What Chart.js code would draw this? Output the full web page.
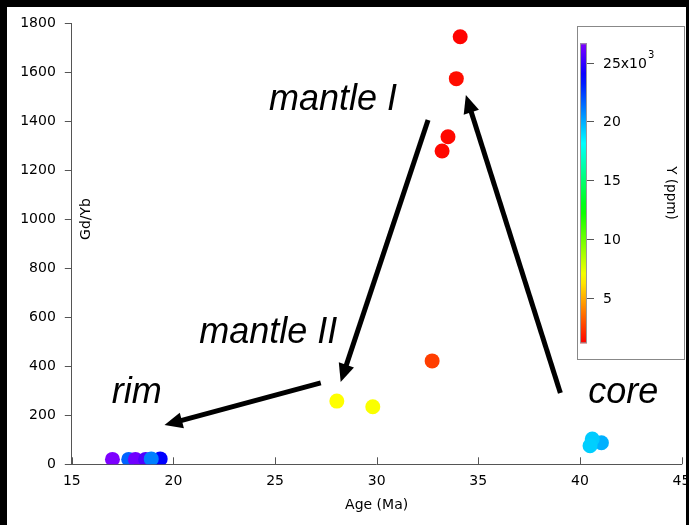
<!DOCTYPE html>
<html>
<head>
<meta charset="utf-8">
<script src="https://cdn.jsdelivr.net/npm/chart.js@4/dist/chart.umd.min.js"></script>
<style>
  html, body { margin: 0; padding: 0; background: #000; }
  canvas { display: block; }
</style>
</head>
<body>
<canvas id="chart" width="689" height="525"></canvas>
<script>
// Spot analyses: age (Ma), Gd/Yb ratio and Y content (x10^3 ppm)
const ages = [17.0, 17.8, 18.13, 18.63, 19.35, 18.91, 28.04, 29.81, 32.73, 33.22, 33.51, 33.92, 34.11, 41.06, 40.61, 40.5];
const gdyb = [20, 20, 20, 20, 22, 22, 258, 235, 422, 1279, 1337, 1574, 1745, 88, 103, 76];
const yppm = [26.6, 21.6, 26.3, 25.6, 23.8, 21.0, 6.8, 6.9, 2.5, 1.3, 1.3, 1.4, 1.2, 19.9, 19.3, 19.2];

// Axis ticks
const xTicks = [15, 20, 25, 30, 35, 40, 45];
const yTicks = [0, 200, 400, 600, 800, 1000, 1200, 1400, 1600, 1800];

// Colour scale (Y, x10^3 ppm)
const cbRange = [1.12, 26.65];
const cbTicks = [5, 10, 15, 20, 25];
const cbLabels = ['5', '10', '15', '20', '25x10'];

// Trend arrows (data coordinates: start -> tip)
const arrowStart = [[32.53, 1405], [39.04, 291], [27.25, 332]];
const arrowTip   = [[28.23, 336], [34.39, 1507], [19.56, 160]];

// Stage labels (left end of baseline, data coordinates)
const stageNames = ['mantle I', 'mantle II', 'rim', 'core'];
const stageX = [24.70, 21.27, 16.97, 40.41];
const stageY = [1446, 495, 250, 250];

function rainbow(v) {
  const t = Math.min(1, Math.max(0, (v - cbRange[0]) / (cbRange[1] - cbRange[0])));
  return 'hsl(' + (t * 270).toFixed(1) + ',100%,50%)';
}

const AXIS = '#555';
const TICK_FONT = '"DejaVu Sans", sans-serif';

function drawArrow(ctx, x1, y1, x2, y2, lw, hl, hw) {
  const a = Math.atan2(y2 - y1, x2 - x1);
  const bx = x2 - hl * Math.cos(a), by = y2 - hl * Math.sin(a);
  ctx.beginPath();
  ctx.moveTo(x1, y1);
  ctx.lineTo(bx + Math.cos(a), by + Math.sin(a));
  ctx.lineWidth = lw;
  ctx.stroke();
  ctx.beginPath();
  ctx.moveTo(x2, y2);
  ctx.lineTo(bx + hw * Math.sin(a), by - hw * Math.cos(a));
  ctx.lineTo(bx - hw * Math.sin(a), by + hw * Math.cos(a));
  ctx.closePath();
  ctx.fill();
}

const decorations = {
  id: 'decorations',
  beforeDraw(chart) {
    const { ctx, width, height } = chart;
    ctx.save();
    ctx.fillStyle = '#fff';
    ctx.fillRect(0, 0, width, height);
    ctx.restore();
  },
  afterDatasetsDraw(chart) {
    const { ctx, scales: { x, y }, chartArea } = chart;
    ctx.save();

    // inward tick marks on the age axis
    ctx.strokeStyle = AXIS;
    ctx.lineWidth = 1;
    xTicks.forEach(v => {
      const px = Math.round(x.getPixelForValue(v)) + 0.5;
      ctx.beginPath();
      ctx.moveTo(px, chartArea.bottom);
      ctx.lineTo(px, chartArea.bottom - 7);
      ctx.stroke();
    });

    // axis titles
    ctx.fillStyle = '#000';
    ctx.font = '14px ' + TICK_FONT;
    ctx.textAlign = 'center';
    ctx.textBaseline = 'middle';
    ctx.fillText('Age (Ma)', (chartArea.left + chartArea.right) / 2, 505);
    ctx.save();
    ctx.translate(86, 219);
    ctx.rotate(-Math.PI / 2);
    ctx.fillText('Gd/Yb', 0, 0);
    ctx.restore();

    // arrows
    ctx.fillStyle = '#000';
    ctx.strokeStyle = '#000';
    arrowStart.forEach((s, i) => {
      const t = arrowTip[i];
      drawArrow(ctx, x.getPixelForValue(s[0]), y.getPixelForValue(s[1]),
                x.getPixelForValue(t[0]), y.getPixelForValue(t[1]), 5, 18, 8);
    });

    // stage labels
    ctx.font = 'italic 36px "Liberation Sans", Arial, sans-serif';
    ctx.textAlign = 'left';
    ctx.textBaseline = 'alphabetic';
    stageNames.forEach((n, i) => {
      ctx.fillText(n, x.getPixelForValue(stageX[i]), y.getPixelForValue(stageY[i]));
    });

    // colour bar
    const box = { l: 577.5, t: 26.5, r: 684.5, b: 359.5 };
    ctx.fillStyle = '#fff';
    ctx.fillRect(box.l, box.t, box.r - box.l, box.b - box.t);
    ctx.strokeStyle = '#888';
    ctx.lineWidth = 1;
    ctx.strokeRect(box.l, box.t, box.r - box.l, box.b - box.t);

    const bar = { l: 580, r: 587, t: 43.3, b: 343.3 };
    const cbPix = v => bar.b - (v - cbRange[0]) / (cbRange[1] - cbRange[0]) * (bar.b - bar.t);
    const grad = ctx.createLinearGradient(0, bar.b, 0, bar.t);
    for (let i = 0; i <= 30; i++) {
      grad.addColorStop(i / 30, rainbow(cbRange[0] + i / 30 * (cbRange[1] - cbRange[0])));
    }
    ctx.fillStyle = grad;
    ctx.fillRect(bar.l, bar.t, bar.r - bar.l, bar.b - bar.t);
    ctx.strokeStyle = '#999';
    ctx.strokeRect(bar.l + 0.5, bar.t + 0.5, bar.r - bar.l - 1, bar.b - bar.t - 1);

    ctx.strokeStyle = AXIS;
    ctx.fillStyle = '#000';
    ctx.font = '14px ' + TICK_FONT;
    ctx.textAlign = 'left';
    ctx.textBaseline = 'middle';
    cbTicks.forEach((v, i) => {
      const py = Math.round(cbPix(v)) + 0.5;
      ctx.beginPath();
      ctx.moveTo(bar.r, py);
      ctx.lineTo(bar.r + 7, py);
      ctx.stroke();
      ctx.fillText(cbLabels[i], 603, py + 1);
      if (i === cbTicks.length - 1) {
        const w = ctx.measureText(cbLabels[i]).width;
        ctx.font = '10px ' + TICK_FONT;
        ctx.fillText('3', 603 + w + 1, py - 8);
        ctx.font = '14px ' + TICK_FONT;
      }
    });
    ctx.save();
    ctx.translate(670, 193);
    ctx.rotate(Math.PI / 2);
    ctx.font = '13.5px ' + TICK_FONT;
    ctx.textAlign = 'center';
    ctx.fillText('Y (ppm)', 0, 0);
    ctx.restore();

    ctx.restore();
  },
  afterDraw(chart) {
    const { ctx, width, height } = chart;
    ctx.save();
    ctx.fillStyle = '#000';
    ctx.fillRect(0, 0, width, 7);
    ctx.fillRect(0, 0, 7, height);
    ctx.fillRect(686, 0, width - 686, height);
    ctx.restore();
  }
};

new Chart(document.getElementById('chart'), {
  type: 'scatter',
  data: {
    datasets: [{
      data: ages.map((a, i) => ({ x: a, y: gdyb[i] })),
      pointRadius: 7.5,
      pointHoverRadius: 7.5,
      pointBorderWidth: 0,
      pointBackgroundColor: yppm.map(rainbow),
      pointBorderColor: yppm.map(rainbow)
    }]
  },
  options: {
    responsive: false,
    animation: false,
    devicePixelRatio: 1,
    layout: { padding: { left: 0, right: 4.1, top: 23.3, bottom: 0 } },
    plugins: { legend: { display: false }, tooltip: { enabled: false } },
    scales: {
      x: {
        type: 'linear',
        min: xTicks[0],
        max: xTicks[xTicks.length - 1],
        afterBuildTicks: s => { s.ticks = xTicks.map(v => ({ value: v })); },
        afterFit: s => { s.height = 60.7; s.paddingLeft = 0; s.paddingRight = 0; },
        grid: { display: true, drawOnChartArea: false, drawTicks: false },
        border: { display: true, color: AXIS, width: 1 },
        ticks: { color: '#000', padding: 9, maxRotation: 0, font: { family: TICK_FONT, size: 14 },
                 callback: v => String(v) }
      },
      y: {
        type: 'linear',
        min: yTicks[0],
        max: yTicks[yTicks.length - 1],
        afterBuildTicks: s => { s.ticks = yTicks.map(v => ({ value: v })); },
        afterFit: s => { s.width = 71.8; s.paddingTop = 0; s.paddingBottom = 0; },
        grid: { display: true, drawOnChartArea: false, drawTicks: true, tickLength: 7, color: AXIS },
        border: { display: true, color: AXIS, width: 1 },
        ticks: { color: '#000', padding: 9, font: { family: TICK_FONT, size: 14 },
                 callback: v => String(v) }
      }
    }
  },
  plugins: [decorations]
});
</script>
</body>
</html>
